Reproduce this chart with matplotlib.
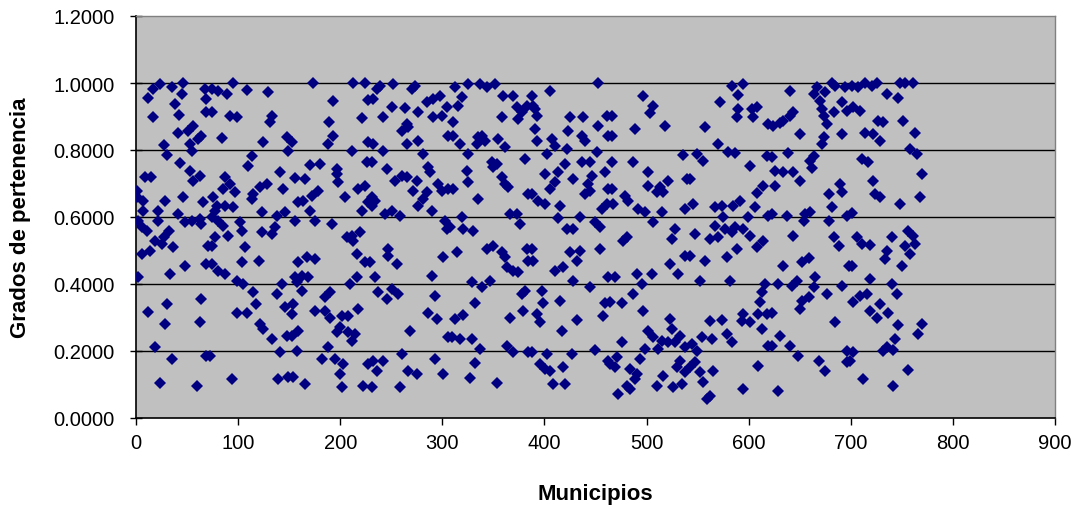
import matplotlib.pyplot as plt

# Municipio index and its membership degree
municipio = [
    17, 23.5, 35, 46, 45, 68, 12, 38, 69, 42.5, 69, 17, 56, 51, 41.5, 64, 61, 27, 53, 54.5,
    30, 43, 53, 63, 56, 9, 15, 0.7, 1, 7, 28, 46, 66, 7, 22, 41.5, 48, 54.5, 63, 64,
    2, 5.5, 10.5, 22, 32, 27, 18.5, 25, 36.5, 14, 5.5, 71, 69, 48, 33, 2, 64, 30, 12, 28,
    63, 18.5, 35, 69, 23.5, 59.5,
    74, 80.7, 89, 95.4, 108.4, 129.7, 74, 92, 98.6, 133, 131.3, 84, 124.8, 147.7, 149.3, 113.3,
    110, 141, 87, 85.6, 92, 97, 144.4, 128, 121.5, 115, 113.3, 75.8, 79, 77.4, 87, 95.4,
    123, 138, 146, 74, 80.7, 85.6, 102, 103.5, 123, 133, 136, 77.4, 90.5, 74, 107, 120,
    103.5, 74, 80.7, 87, 98.6, 105, 115, 143, 138, 146, 118, 98.6, 108.4, 121.5, 124.8, 133,
    147.7, 141, 72.5, 93.7, 139.5, 149.3,
    173.7, 212.9, 224.3, 193.3, 227.6, 189.4, 221, 152.4, 193.3, 188.4, 211.3, 227.6, 226, 170.4,
    180.2, 196.6, 196.6, 198.2, 155.7, 165.5, 178.6, 172, 163.9, 159, 204.7, 217.8, 224.3, 227.6,
    221, 170.4, 175.3, 155.7, 191.6, 206.4, 211.3, 219.4, 212.9, 216.2, 224.3, 167.1, 175.3, 159,
    155.7, 162.2, 168.8, 157.3, 162.2, 209.6, 216.2, 190, 185.1, 154, 152.4, 175.3, 185.1, 190,
    201.5, 208, 217.8, 199.8, 196.6, 208, 214.5, 211.3, 159, 152.4, 188.4, 157.3, 181.8, 194.9,
    203.1, 199.8, 154, 165.5, 201.5, 222.7, 227.6,
    239, 252, 235.7, 270, 273.3, 232.5, 250.4, 263.5, 276.6, 284.8, 291.3, 297.8, 242.3, 291.3,
    299.5, 304.4, 265.1, 260.2, 266.8, 306, 232.5, 265.1, 276.6, 281.5, 242.3, 230.8, 245.5, 286.4,
    288, 253.7, 260.2, 265.1, 275, 296.2, 271.7, 299.5, 306, 284.8, 281.5, 276.6, 289.7, 230.8,
    234.1, 230.8, 243.9, 250.4, 258.6, 302.7, 304.4, 247.2, 247.2, 255.3, 301.1, 229.2, 234.1, 289.7,
    237.4, 245.5, 250.4, 257, 293, 286.4, 294.6, 306, 268.4, 260.2, 293, 301.1, 232.5, 235.7,
    242.3, 266.8, 275, 230.8, 258.6,
    312.4, 325.5, 336.9, 343.4, 351.6, 318.9, 315.7, 359.8, 369.6, 372.9, 377.8, 382.7, 374.5, 358.2,
    310.8, 310.8, 317.3, 335.3, 338.5, 341.8, 333.6, 354.9, 361.4, 325.5, 381, 348.3, 350, 353.3,
    323.8, 325.5, 358.2, 361.4, 364.7, 310.8, 384.3, 335.3, 366.3, 372.9, 376.1, 318.9, 307.5, 320.6,
    330.4, 314, 343.4, 350, 358.2, 361.4, 382.7, 384.3, 363.1, 369.6, 374.5, 328.7, 338.5, 346.7,
    377.8, 381, 332, 366.3, 379.4, 312.4, 320.6, 309.1, 317.3, 328.7, 336.9, 363.1, 369.6, 384.3,
    332, 327.1, 353.3,
    452.9, 405.5, 387.5, 389.2, 390.8, 392.4, 425.1, 438.2, 461, 452.9, 423.5, 390.8, 392.4, 407.1,
    410.4, 421.8, 436.6, 439.8, 462.7, 451.3, 402.2, 420.2, 413.7, 400.6, 428.4, 410.4, 405.5, 436.6,
    444.7, 459.4, 446.4, 443.1, 444.7, 439.8, 462.7, 461, 387.5, 394.1, 400.6, 415.3, 456.2, 413.7,
    434.9, 421.8, 428.4, 449.6, 454.5, 387.5, 389.2, 425.1, 434.9, 431.7, 410.4, 418.6, 428.4, 454.5,
    462.7, 444.7, 397.3, 399, 415.3, 392.4, 395.7, 417, 431.7, 459.4, 457.8, 387.5, 402.2, 426.7,
    449.6, 395.7, 400.6, 405.5, 418.6, 408.8, 420.2, 462.7,
    496.9, 506.7, 503.4, 518.1, 465.8, 488.7, 465.8, 536.1, 465.8, 487.1, 501.8, 521.4, 539.4, 501.8,
    513.2, 510, 516.5, 478.9, 482.2, 465.8, 467.5, 492, 498.5, 514.9, 506.7, 537.7, 527.9, 524.7,
    480.5, 477.3, 537.7, 523, 531.2, 469.1, 490.3, 505, 495.2, 487.1, 475.6, 464.2, 496.9, 523,
    524.7, 501.8, 506.7, 532.8, 514.9, 521.4, 527.9, 537.7, 475.6, 498.5, 511.6, 470.7, 469.1, 493.6,
    532.8, 529.6, 537.7, 483.8, 490.3, 488.7, 480.5, 483.8, 510, 516.5, 526.3, 534.5, 472.4, 464.2,
    583.4, 594.9, 590, 572, 590, 588.4, 603.1, 608, 604.7, 619.4, 557.3, 570.4, 549.1, 555.7,
    580.2, 586.7, 601.4, 617.8, 542.6, 614.5, 608, 591.6, 585.1, 573.6, 567.1, 545.9, 606.3, 599.8,
    575.3, 567.1, 576.9, 586.7, 594.9, 583.4, 601.4, 547.5, 562.2, 570.4, 619.4, 614.5, 608, 588.4,
    578.5, 557.3, 542.6, 552.4, 581.8, 616.1, 612.9, 611.2, 594.9, 601.4, 593.3, 609.6, 617.8, 612.9,
    562.2, 573.6, 554, 563.8, 578.5, 583.4, 544.2, 549.1, 547.5, 542.6, 552.4, 555.7, 565.5, 562.2,
    558.9, 594.9, 609.6, 619.4,
    640.6, 666.8, 681.5, 684.7, 694.5, 674.9, 663.5, 670, 691.3, 671.7, 683.1, 696.2, 673.3, 676.6,
    643.9, 640.6, 634.1, 630.8, 624.3, 650.4, 673.3, 671.7, 691.3, 639, 663.5, 660.2, 661.8, 622.6,
    625.9, 634.1, 643.9, 650.4, 625.9, 689.6, 691.3, 678.2, 681.5, 622.6, 637.3, 655.3, 660.2, 653.7,
    678.2, 696.2, 643.9, 683.1, 688, 634.1, 652, 658.6, 697.8, 629.2, 642.2, 647.1, 665.1, 663.5,
    676.6, 691.3, 652, 658.6, 650.4, 622.6, 684.7, 630.8, 622.6, 640.6, 648.8, 668.4, 674.9, 696.2,
    696.2, 629.2,
    700.9, 707.5, 714, 720.5, 725.4, 748.3, 753.2, 761.4, 735.2, 746.7, 702.6, 709.1, 727.1, 732,
    751.6, 763, 714, 722.2, 728.7, 758.1, 764.7, 710.7, 717.3, 769.6, 722.2, 723.8, 728.7, 767.9,
    748.3, 700.9, 705.8, 710.7, 718.9, 740.1, 756.5, 761.4, 763, 753.2, 758.1, 735.2, 733.6, 750,
    700.9, 718.9, 740.1, 745, 702.6, 709.1, 715.6, 728.7, 718.9, 725.4, 736.9, 746.7, 769.6, 766.3,
    743.4, 732, 735.2, 741.8, 702.6, 699.3, 756.5, 712.4, 741.8,
]

grado = [
    0.982, 0.997, 0.989, 0.999, 0.967, 0.982, 0.955, 0.937, 0.952, 0.905, 0.912, 0.898, 0.873, 0.858, 0.850, 0.843, 0.833, 0.816, 0.818, 0.798,
    0.786, 0.760, 0.738, 0.723, 0.708, 0.720, 0.720, 0.679, 0.659, 0.649, 0.649, 0.661, 0.644, 0.619, 0.619, 0.609, 0.584, 0.589, 0.594, 0.579,
    0.589, 0.569, 0.559, 0.589, 0.559, 0.539, 0.529, 0.519, 0.509, 0.500, 0.490, 0.514, 0.460, 0.455, 0.430, 0.422, 0.355, 0.340, 0.315, 0.281,
    0.286, 0.213, 0.176, 0.186, 0.103, 0.097,
    0.982, 0.977, 0.967, 0.999, 0.979, 0.972, 0.912, 0.902, 0.899, 0.902, 0.883, 0.836, 0.823, 0.838, 0.798, 0.783,
    0.753, 0.733, 0.718, 0.684, 0.699, 0.674, 0.684, 0.699, 0.689, 0.669, 0.654, 0.659, 0.634, 0.619, 0.634, 0.629,
    0.614, 0.604, 0.614, 0.599, 0.589, 0.574, 0.584, 0.559, 0.554, 0.549, 0.569, 0.539, 0.544, 0.514, 0.509, 0.470,
    0.465, 0.460, 0.440, 0.430, 0.410, 0.400, 0.375, 0.400, 0.370, 0.330, 0.340, 0.312, 0.312, 0.281, 0.266, 0.236,
    0.246, 0.198, 0.186, 0.116, 0.116, 0.121,
    0.999, 0.999, 0.999, 0.945, 0.949, 0.885, 0.896, 0.823, 0.843, 0.818, 0.798, 0.823, 0.763, 0.756,
    0.758, 0.743, 0.728, 0.703, 0.716, 0.713, 0.679, 0.664, 0.649, 0.644, 0.661, 0.684, 0.694, 0.644,
    0.619, 0.619, 0.589, 0.589, 0.579, 0.539, 0.544, 0.554, 0.529, 0.490, 0.465, 0.480, 0.475, 0.465,
    0.420, 0.425, 0.420, 0.405, 0.380, 0.400, 0.420, 0.375, 0.360, 0.340, 0.310, 0.320, 0.320, 0.300,
    0.305, 0.305, 0.325, 0.271, 0.256, 0.256, 0.251, 0.231, 0.261, 0.246, 0.211, 0.201, 0.176, 0.176,
    0.161, 0.131, 0.121, 0.101, 0.092, 0.097, 0.161,
    0.992, 0.997, 0.982, 0.982, 0.992, 0.952, 0.927, 0.925, 0.912, 0.942, 0.952, 0.962, 0.898, 0.898,
    0.902, 0.927, 0.878, 0.858, 0.868, 0.843, 0.818, 0.818, 0.828, 0.788, 0.798, 0.763, 0.743, 0.748,
    0.733, 0.708, 0.723, 0.718, 0.708, 0.699, 0.679, 0.679, 0.684, 0.674, 0.654, 0.634, 0.619, 0.659,
    0.649, 0.634, 0.609, 0.619, 0.604, 0.589, 0.564, 0.504, 0.485, 0.460, 0.480, 0.465, 0.420, 0.425,
    0.375, 0.355, 0.385, 0.370, 0.365, 0.312, 0.296, 0.241, 0.261, 0.191, 0.176, 0.131, 0.171, 0.141,
    0.171, 0.141, 0.131, 0.092, 0.092,
    0.987, 0.997, 0.997, 0.987, 0.997, 0.957, 0.932, 0.962, 0.962, 0.927, 0.912, 0.932, 0.893, 0.898,
    0.883, 0.843, 0.818, 0.838, 0.843, 0.828, 0.818, 0.833, 0.808, 0.788, 0.773, 0.763, 0.748, 0.758,
    0.738, 0.703, 0.718, 0.699, 0.689, 0.684, 0.669, 0.654, 0.609, 0.609, 0.579, 0.599, 0.569, 0.564,
    0.559, 0.495, 0.504, 0.514, 0.495, 0.480, 0.504, 0.470, 0.450, 0.440, 0.435, 0.405, 0.390, 0.410,
    0.370, 0.380, 0.342, 0.300, 0.320, 0.296, 0.308, 0.241, 0.236, 0.236, 0.206, 0.216, 0.196, 0.196,
    0.163, 0.119, 0.103,
    0.999, 0.977, 0.962, 0.932, 0.922, 0.902, 0.898, 0.898, 0.902, 0.873, 0.858, 0.863, 0.828, 0.833,
    0.813, 0.803, 0.843, 0.828, 0.843, 0.793, 0.788, 0.758, 0.733, 0.728, 0.713, 0.703, 0.684, 0.763,
    0.763, 0.733, 0.723, 0.699, 0.679, 0.669, 0.684, 0.639, 0.669, 0.649, 0.639, 0.634, 0.624, 0.596,
    0.599, 0.564, 0.564, 0.584, 0.569, 0.504, 0.470, 0.495, 0.500, 0.470, 0.440, 0.450, 0.410, 0.504,
    0.420, 0.390, 0.380, 0.342, 0.348, 0.310, 0.286, 0.261, 0.293, 0.342, 0.305, 0.196, 0.191, 0.191,
    0.203, 0.161, 0.146, 0.141, 0.151, 0.101, 0.101, 0.171,
    0.962, 0.932, 0.909, 0.873, 0.902, 0.863, 0.843, 0.785, 0.765, 0.763, 0.733, 0.708, 0.713, 0.694,
    0.689, 0.674, 0.674, 0.664, 0.649, 0.684, 0.639, 0.624, 0.614, 0.614, 0.584, 0.624, 0.564, 0.534,
    0.539, 0.529, 0.485, 0.460, 0.430, 0.420, 0.430, 0.430, 0.400, 0.370, 0.342, 0.345, 0.320, 0.296,
    0.266, 0.261, 0.241, 0.246, 0.231, 0.226, 0.226, 0.211, 0.226, 0.206, 0.206, 0.181, 0.151, 0.176,
    0.171, 0.151, 0.136, 0.146, 0.131, 0.116, 0.097, 0.087, 0.097, 0.126, 0.092, 0.101, 0.072, 0.161,
    0.992, 0.997, 0.965, 0.942, 0.922, 0.900, 0.922, 0.927, 0.898, 0.878, 0.868, 0.818, 0.788, 0.768,
    0.793, 0.790, 0.753, 0.783, 0.713, 0.694, 0.671, 0.649, 0.634, 0.634, 0.629, 0.639, 0.629, 0.599,
    0.599, 0.574, 0.564, 0.569, 0.564, 0.554, 0.544, 0.549, 0.534, 0.539, 0.604, 0.529, 0.509, 0.504,
    0.480, 0.470, 0.485, 0.410, 0.410, 0.400, 0.375, 0.345, 0.310, 0.286, 0.291, 0.310, 0.310, 0.266,
    0.291, 0.293, 0.241, 0.236, 0.251, 0.226, 0.221, 0.201, 0.166, 0.151, 0.136, 0.106, 0.141, 0.067,
    0.057, 0.087, 0.156, 0.216,
    0.977, 0.987, 0.999, 0.992, 0.987, 0.972, 0.967, 0.947, 0.942, 0.922, 0.912, 0.917, 0.902, 0.878,
    0.912, 0.902, 0.888, 0.880, 0.873, 0.848, 0.840, 0.818, 0.848, 0.790, 0.783, 0.768, 0.746, 0.780,
    0.738, 0.733, 0.733, 0.708, 0.694, 0.699, 0.674, 0.669, 0.629, 0.609, 0.604, 0.609, 0.614, 0.589,
    0.589, 0.604, 0.544, 0.539, 0.514, 0.455, 0.465, 0.478, 0.455, 0.400, 0.395, 0.410, 0.420, 0.390,
    0.370, 0.395, 0.350, 0.360, 0.325, 0.312, 0.286, 0.246, 0.216, 0.216, 0.186, 0.171, 0.141, 0.201,
    0.166, 0.082,
    0.992, 0.987, 0.999, 0.992, 0.999, 0.999, 0.999, 0.999, 0.967, 0.955, 0.927, 0.917, 0.888, 0.883,
    0.888, 0.850, 0.850, 0.848, 0.828, 0.803, 0.788, 0.773, 0.763, 0.728, 0.708, 0.669, 0.659, 0.661,
    0.639, 0.611, 0.539, 0.519, 0.517, 0.539, 0.559, 0.544, 0.519, 0.514, 0.490, 0.500, 0.475, 0.455,
    0.455, 0.415, 0.400, 0.370, 0.345, 0.365, 0.370, 0.340, 0.320, 0.300, 0.312, 0.279, 0.281, 0.251,
    0.236, 0.201, 0.211, 0.203, 0.196, 0.171, 0.143, 0.116, 0.097,
]

yticks = [0, 0.2, 0.4, 0.6, 0.8, 1.0, 1.2]

plt.rcParams['font.family'] = ['Liberation Sans', 'DejaVu Sans']

fig = plt.figure(figsize=(10.79, 5.10), dpi=100)
ax = fig.add_axes([136 / 1079, 1 - 419 / 510, (1055 - 136) / 1079, (419 - 17) / 510])
ax.set_facecolor('#C0C0C0')

for v in yticks[1:-1]:
    ax.axhline(v, color='black', linewidth=1.0, zorder=1)

ax.plot(municipio, grado, linestyle='none', marker='D', markersize=6.4,
        color='#000080', markeredgewidth=0, zorder=3)

ax.set_xlim(0, 900)
ax.set_ylim(0, 1.2)
ax.set_xticks(range(0, 901, 100))
ax.set_yticks(yticks)
ax.set_yticklabels([f'{v:.4f}' for v in yticks])
ax.tick_params(axis='both', labelsize=14.5, width=1, color='black')
ax.tick_params(axis='y', direction='inout', length=8.5, pad=11)
ax.tick_params(axis='x', direction='out', length=5, pad=6)

for side in ['left', 'bottom']:
    ax.spines[side].set_color('black')
    ax.spines[side].set_linewidth(1.2)
for side in ['top', 'right']:
    ax.spines[side].set_color('#808080')
    ax.spines[side].set_linewidth(1.0)

ax.set_xlabel('Municipios', fontsize=16, fontweight='bold', labelpad=22)
ax.set_ylabel('Grados de pertenencia', fontsize=16, fontweight='bold', labelpad=16)

fig.savefig('out.png', dpi=100)
